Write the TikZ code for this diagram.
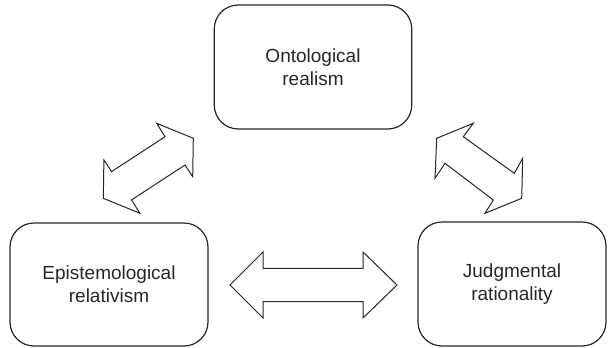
\documentclass[tikz,border=0pt]{standalone}
\usepackage{fontspec}
\setmainfont{Liberation Sans}
\begin{document}
\begin{tikzpicture}[x=1pt,y=-1pt,
  concept/.style={draw=black!85, line width=1.2pt, rounded corners=24pt, align=center,
    text=black!85, font=\fontsize{19}{23}\selectfont, inner sep=0pt},
  blockarrow/.style={draw=black!85, line width=1pt, line join=miter, fill=white}]
\useasboundingbox (0,0) rectangle (608,348);
% boxes
\node[concept, minimum width=197.5pt, minimum height=124pt] (onto) at (313,67) {Ontological\\realism};
\node[concept, minimum width=198pt, minimum height=123pt] (epis) at (109,284.5) {Epistemological\\relativism};
\node[concept, minimum width=188pt, minimum height=124pt] (judg) at (512,284) {Judgmental\\rationality};
% left diagonal double arrow
\coordinate (q1) at (193.3,138.3);
\coordinate (q2) at (192.7,176.7);
\coordinate (q3) at (185,165);
\coordinate (q4) at (131.6,199.9);
\coordinate (q5) at (139.9,213.3);
\coordinate (q6) at (103.3,198.3);
\coordinate (q7) at (103.9,159.9);
\coordinate (q8) at (111.6,171.6);
\coordinate (q9) at (165,136.7);
\coordinate (q10) at (156.7,123.3);
\draw[blockarrow] (q1) -- (q2) -- (q3) -- (q4) -- (q5) -- (q6) -- (q7) -- (q8) -- (q9) -- (q10) -- cycle;
% right diagonal double arrow
\coordinate (p1) at (473.3,123.3);
\coordinate (p2) at (463.3,136.7);
\coordinate (p3) at (514.3,173.3);
\coordinate (p4) at (522.7,158.3);
\coordinate (p5) at (521.7,198.3);
\coordinate (p6) at (485,213.3);
\coordinate (p7) at (493.3,200);
\coordinate (p8) at (445,163.3);
\coordinate (p9) at (435,178.3);
\coordinate (p10) at (436.7,138.3);
\draw[blockarrow] (p1) -- (p2) -- (p3) -- (p4) -- (p5) -- (p6) -- (p7) -- (p8) -- (p9) -- (p10) -- cycle;
% horizontal double arrow
\coordinate (h1) at (230,285);
\coordinate (h2) at (263,252);
\coordinate (h3) at (263,268.3);
\coordinate (h4) at (363,268.3);
\coordinate (h5) at (363,252);
\coordinate (h6) at (397,285);
\coordinate (h7) at (363,318);
\coordinate (h8) at (363,301.7);
\coordinate (h9) at (263,301.7);
\coordinate (h10) at (263,318);
\draw[blockarrow] (h1) -- (h2) -- (h3) -- (h4) -- (h5) -- (h6) -- (h7) -- (h8) -- (h9) -- (h10) -- cycle;
\end{tikzpicture}
\end{document}
